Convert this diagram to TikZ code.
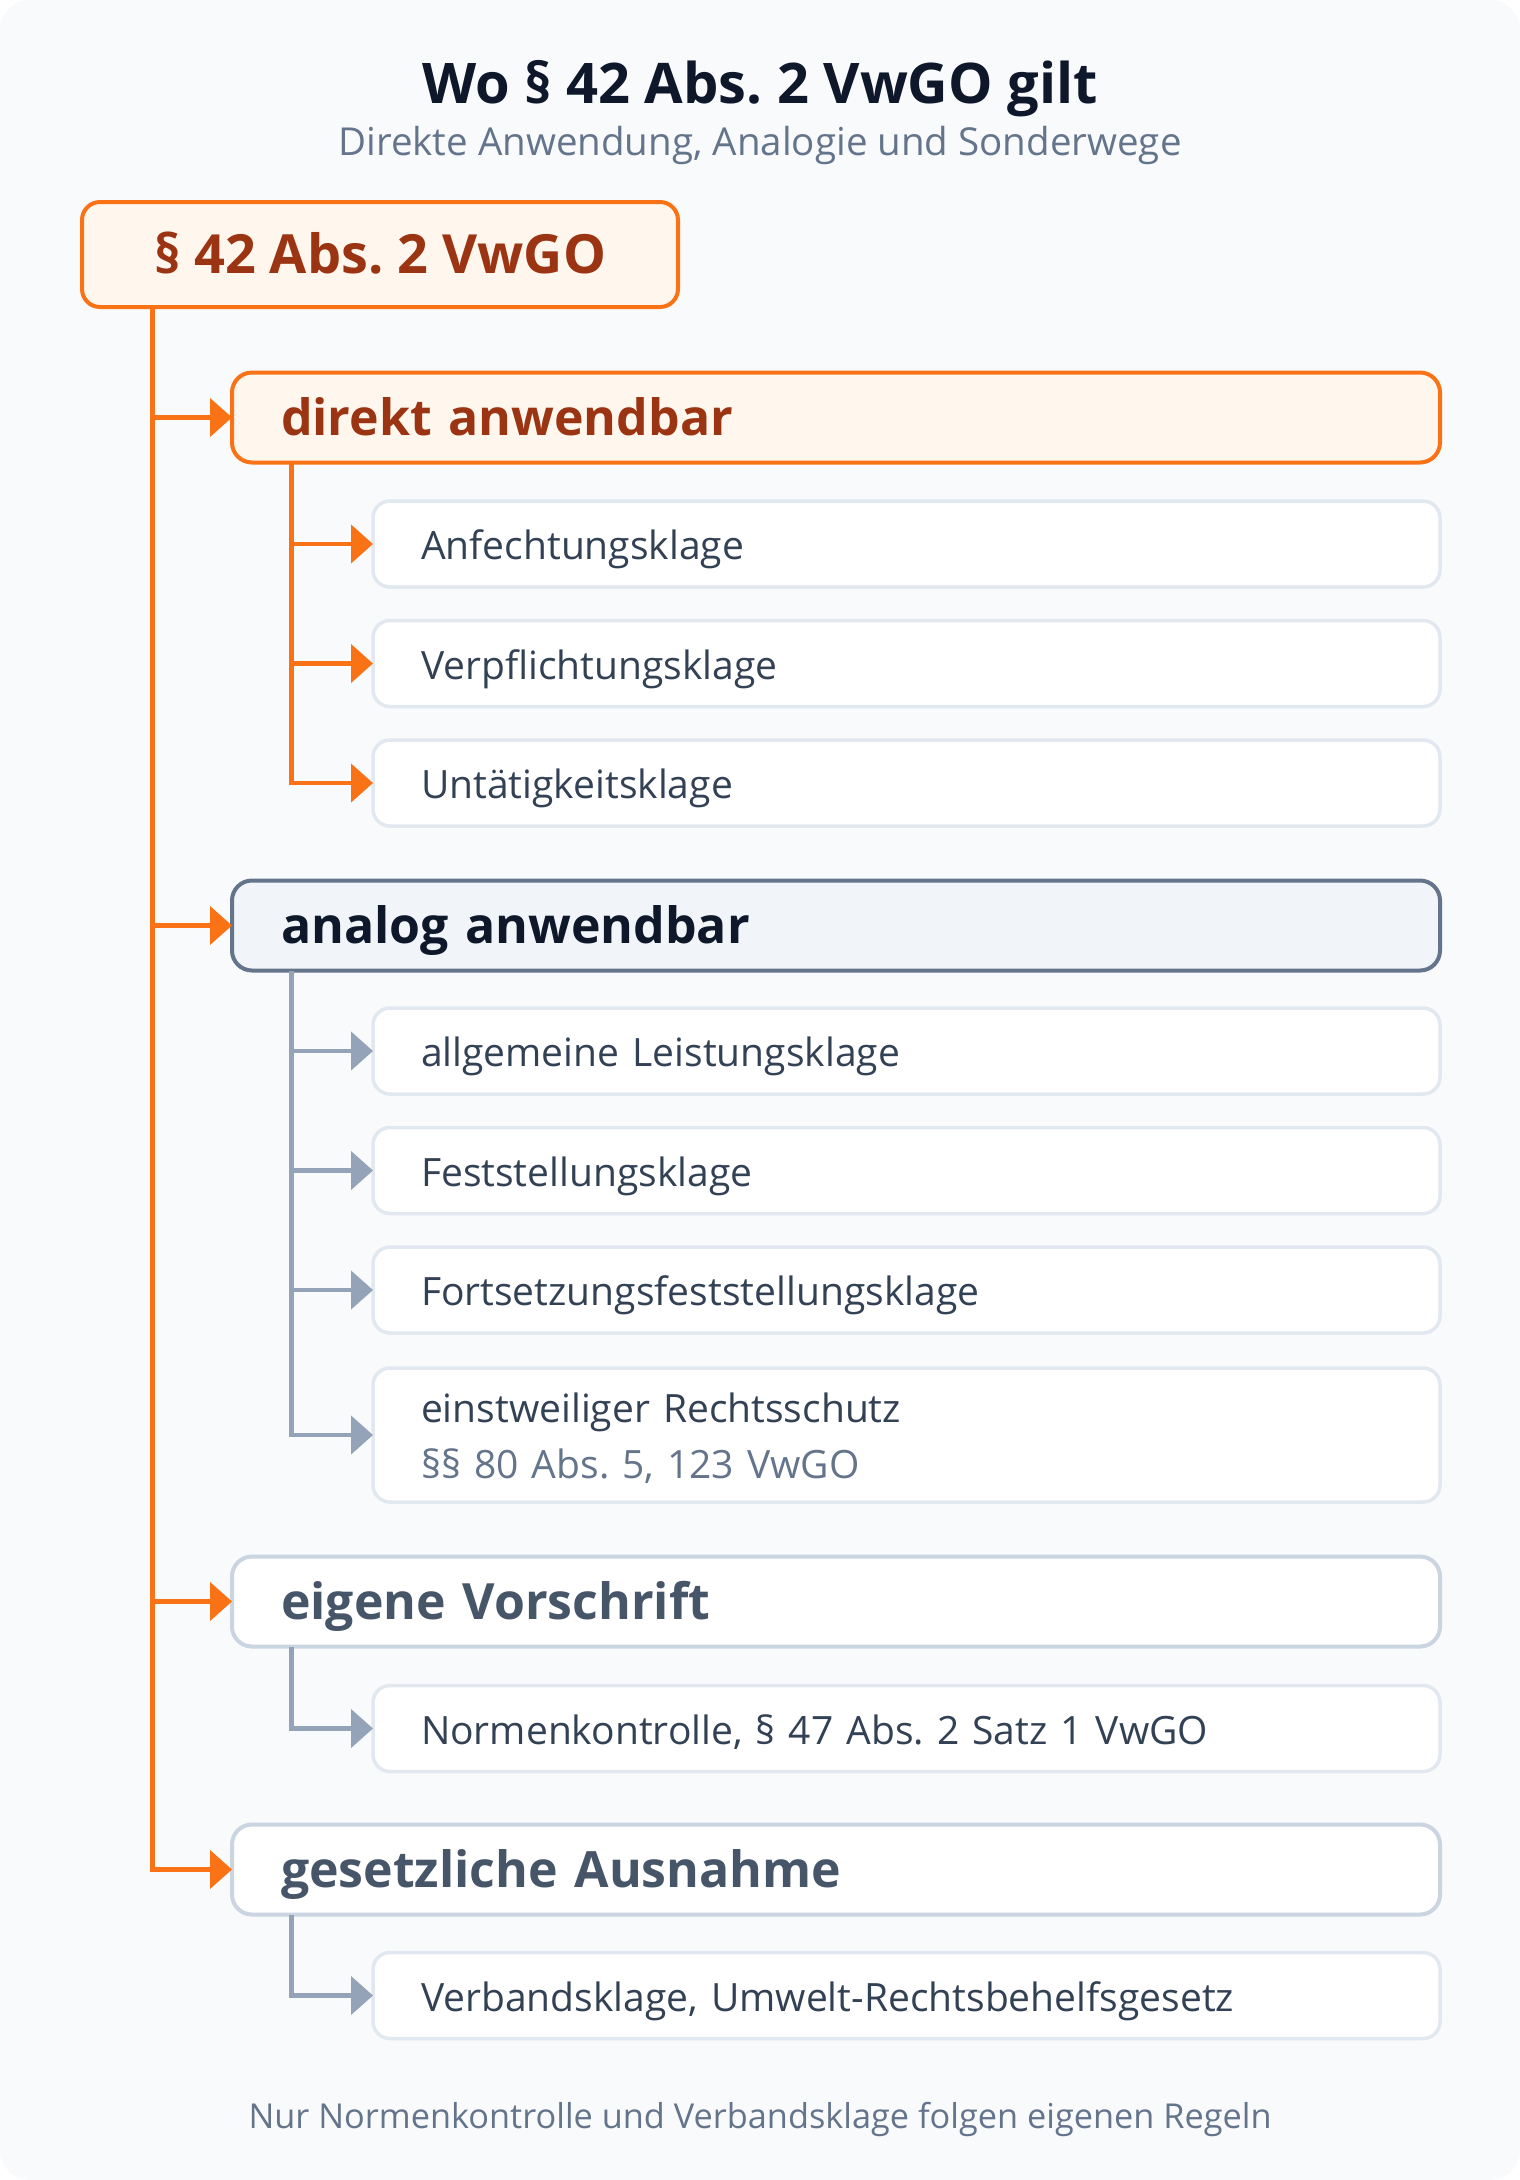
\documentclass[tikz,border=0pt]{standalone}
\usepackage{fontspec}
\setmainfont{Open Sans}
\frenchspacing
\usetikzlibrary{arrows.meta}
\definecolor{orange500}{HTML}{F97316}
\definecolor{orange50}{HTML}{FFF7ED}
\definecolor{orange800}{HTML}{9A3412}
\definecolor{slate900}{HTML}{0F172A}
\definecolor{slate700}{HTML}{334155}
\definecolor{slate600}{HTML}{475569}
\definecolor{slate500}{HTML}{64748B}
\definecolor{slate400}{HTML}{94A3B8}
\definecolor{slate300}{HTML}{CBD5E1}
\definecolor{slate200}{HTML}{E2E8F0}
\definecolor{slate100}{HTML}{F1F5F9}
\definecolor{slate50}{HTML}{F8FAFC}

\begin{document}
\begin{tikzpicture}[x=1pt, y=1pt, node distance={119.5pt}, line width=4.5pt,
            root/.style = {draw=orange500, fill=orange50, line width=4pt, rounded corners=18pt, outer sep=0pt,
                minimum width=596pt, minimum height=105pt, inner sep=0pt, text=orange800,
                font=\fontsize{54}{64}\selectfont\bfseries, text height=37pt, text depth=0pt},
            cat/.style = {rounded corners=20pt, line width=4pt, outer sep=0pt, inner xsep=49pt, inner ysep=0pt,
                text width=1110pt, align=left, minimum height=90pt,
                font=\fontsize{50}{60}\selectfont\bfseries, text height=35pt, text depth=0pt},
            item/.style = {draw=slate200, fill=white, line width=3.5pt, rounded corners=17pt, outer sep=0pt,
                inner xsep=48pt, inner ysep=0pt, text width=971pt, align=left, minimum height=86pt,
                text=slate700, font=\fontsize{39}{56.5}\selectfont, text height=31pt, text depth=0pt},
            oarrow/.style = {draw=orange500, -{Triangle[length=22pt, width=38pt]}},
            garrow/.style = {draw=slate400, -{Triangle[length=22pt, width=38pt]}}]
            \fill[white] (0,0) rectangle (1520,-2180);
            \fill[slate50, rounded corners=30pt] (0,0) rectangle (1520,-2180);
            \node[text=slate900, font=\fontsize{56}{66}\selectfont\bfseries, anchor=base] (title) at (760,-103) {Wo § 42 Abs. 2 VwGO gilt};
            \node[text=slate500, font=\fontsize{38.5}{46}\selectfont, anchor=base] (sub) at (760,-155) {Direkte Anwendung, Analogie und Sonderwege};
            \node[root] (root) at (380,-254.5) {§ 42 Abs. 2 VwGO};
            \node[cat, draw=orange500, fill=orange50, text=orange800] (direkt) at (836,-417.5) {direkt anwendbar};
            \node[item] (d1) at (906.5,-544) {Anfechtungsklage};
            \node[item] (d2) [below of=d1] {Verpflichtungsklage};
            \node[item] (d3) [below of=d2] {Untätigkeitsklage};
            \node[cat, draw=slate500, fill=slate100, text=slate900] (analog) at (836,-925.5) {analog anwendbar};
            \node[item] (a1) at (906.5,-1051) {allgemeine Leistungsklage};
            \node[item] (a2) [below of=a1] {Feststellungsklage};
            \node[item] (a3) [below of=a2] {Fortsetzungsfeststellungsklage};
            \node[item, minimum height=134pt, text depth=57pt] (a4) [below of=a3, yshift=-25.5pt] {einstweiliger Rechtsschutz\\{\color{slate500}§§ 80 Abs. 5, 123 VwGO}};
            \node[cat, draw=slate300, fill=white, text=slate600] (eigen) at (836,-1601.5) {eigene Vorschrift};
            \node[item] (e1) at (906.5,-1728.5) {Normenkontrolle, § 47 Abs. 2 Satz 1 VwGO};
            \node[cat, draw=slate300, fill=white, text=slate600] (ausn) at (836,-1869.5) {gesetzliche Ausnahme};
            \node[item] (g1) at (906.5,-1995.5) {Verbandsklage, Umwelt-Rechtsbehelfsgesetz};
            \node[text=slate500, font=\fontsize{34.3}{42}\selectfont, anchor=base] (foot) at (760,-2128) {Nur Normenkontrolle und Verbandsklage folgen eigenen Regeln};
            \coordinate (rt) at ([xshift=70.5pt]root.south west);
            \coordinate (dt) at ([xshift=59.5pt]direkt.south west);
            \coordinate (at) at ([xshift=59.5pt]analog.south west);
            \coordinate (et) at ([xshift=59.5pt]eigen.south west);
            \coordinate (gt) at ([xshift=59.5pt]ausn.south west);
            \draw[oarrow] (rt) |- (ausn.west);
            \draw[oarrow] (rt) |- (eigen.west);
            \draw[oarrow] (rt) |- (analog.west);
            \draw[oarrow] (rt) |- (direkt.west);
            \draw[oarrow] (dt) |- (d1.west);
            \draw[oarrow] (dt) |- (d2.west);
            \draw[oarrow] (dt) |- (d3.west);
            \draw[garrow] (at) |- (a1.west);
            \draw[garrow] (at) |- (a2.west);
            \draw[garrow] (at) |- (a3.west);
            \draw[garrow] (at) |- (a4.west);
            \draw[garrow] (et) |- (e1.west);
            \draw[garrow] (gt) |- (g1.west);
\end{tikzpicture}
\end{document}
